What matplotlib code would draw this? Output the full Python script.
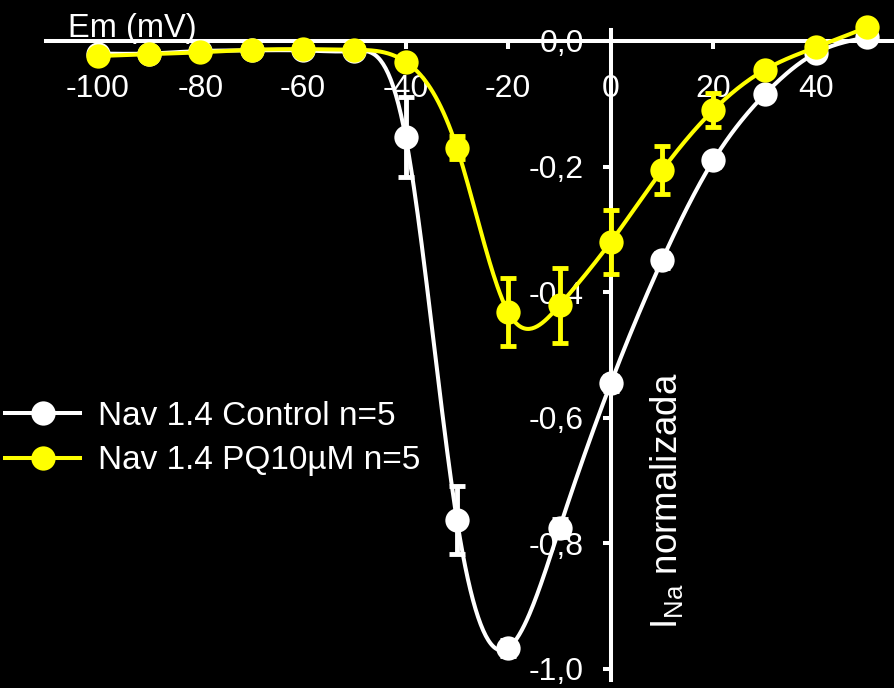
import numpy as np
import matplotlib
matplotlib.use("Agg")
import matplotlib.pyplot as plt
from matplotlib.lines import Line2D
from matplotlib.ticker import FuncFormatter

plt.rcParams["font.family"] = ["Liberation Sans", "DejaVu Sans"]
plt.rcParams["mathtext.fontset"] = "custom"
plt.rcParams["mathtext.rm"] = "Liberation Sans"
plt.rcParams["mathtext.it"] = "Liberation Sans:italic"

# Membrane potential steps (mV)
volt = [-100, -90, -80, -70, -60, -50, -40, -30, -20, -10, 0, 10, 20, 30, 40, 50]

# Normalised sodium current, mean and SEM
control_mean = [-0.020, -0.020, -0.016, -0.015, -0.015, -0.016, -0.153, -0.763,
                -0.967, -0.776, -0.545, -0.349, -0.190, -0.085, -0.019, 0.006]
control_sem = [0.003, 0.003, 0.003, 0.003, 0.003, 0.003, 0.064, 0.054,
               0.012, 0.014, 0.012, 0.012, 0.010, 0.008, 0.005, 0.005]

pq_mean = [-0.024, -0.021, -0.018, -0.014, -0.013, -0.014, -0.033, -0.170,
           -0.432, -0.421, -0.320, -0.206, -0.110, -0.046, -0.010, 0.022]
pq_sem = [0.003, 0.003, 0.003, 0.003, 0.003, 0.003, 0.008, 0.018,
          0.054, 0.060, 0.051, 0.038, 0.027, 0.010, 0.006, 0.005]

x_ticks = [-100, -80, -60, -40, -20, 0, 20, 40]
y_ticks = [0.0, -0.2, -0.4, -0.6, -0.8, -1.0]

labels = ["Nav 1.4 Control n=5", "Nav 1.4 PQ10\u00b5M n=5"]
colors = ["white", "#ffff00"]


def natural_spline(x, y, num=600):
    """Natural cubic spline through (x, y), evaluated on a fine grid."""
    x = np.asarray(x, float)
    y = np.asarray(y, float)
    n = len(x)
    h = np.diff(x)
    A = np.zeros((n, n))
    r = np.zeros(n)
    A[0, 0] = A[-1, -1] = 1.0
    for i in range(1, n - 1):
        A[i, i - 1] = h[i - 1]
        A[i, i] = 2 * (h[i - 1] + h[i])
        A[i, i + 1] = h[i]
        r[i] = 6 * ((y[i + 1] - y[i]) / h[i] - (y[i] - y[i - 1]) / h[i - 1])
    M = np.linalg.solve(A, r)
    xs = np.linspace(x[0], x[-1], num)
    k = np.clip(np.searchsorted(x, xs) - 1, 0, n - 2)
    t0 = x[k + 1] - xs
    t1 = xs - x[k]
    hk = h[k]
    ys = (M[k] * t0 ** 3 / (6 * hk) + M[k + 1] * t1 ** 3 / (6 * hk)
          + (y[k] / hk - M[k] * hk / 6) * t0
          + (y[k + 1] / hk - M[k + 1] * hk / 6) * t1)
    return xs, ys


W, H = 894, 688
fig = plt.figure(figsize=(W / 100, H / 100), dpi=100, facecolor="black")
ax = fig.add_axes([46 / W, (H - 680) / H, (W - 46) / W, 650 / H])
ax.set_facecolor("black")

ax.set_xlim(-110.1, 55.2)
ax.set_ylim(-1.018, 0.0175)

lw = 2.9
ms = 17.5
series = [(control_mean, control_sem), (pq_mean, pq_sem)]
for i, ((mean, sem), col) in enumerate(zip(series, colors)):
    z = 3 + 3 * i
    xs, ys = natural_spline(volt, mean)
    ax.plot(xs, ys, color=col, lw=lw, zorder=z, clip_on=False,
            solid_capstyle="round")
    ax.errorbar(volt, mean, yerr=sem, fmt="none", ecolor=col,
                elinewidth=3.5, capsize=6, capthick=3.5, zorder=z + 1,
                clip_on=False)
    ax.plot(volt, mean, "o", color=col, ms=ms, mew=0, zorder=z + 2,
            clip_on=False)

# Axes crossing at the origin
for side in ("top", "right"):
    ax.spines[side].set_visible(False)
ax.spines["left"].set_position(("data", 0))
ax.spines["bottom"].set_position(("data", 0))
for side in ("left", "bottom"):
    ax.spines[side].set_color("white")
    ax.spines[side].set_linewidth(2.9)

ax.set_xticks(x_ticks)
ax.set_yticks(y_ticks)
ax.xaxis.set_major_formatter(FuncFormatter(lambda v, p: f"{v:.0f}"))
ax.yaxis.set_major_formatter(FuncFormatter(
    lambda v, p: ("0,0" if abs(v) < 1e-9 else f"{v:.1f}".replace(".", ","))))
ax.tick_params(axis="x", direction="out", length=6, width=2.9, colors="white",
               labelsize=23, pad=18)
ax.tick_params(axis="y", direction="out", length=6, width=2.9, colors="white",
               labelsize=23, pad=13.5)
ax.minorticks_off()

ax.text(-105.8, 0.0064, "Em (mV)", color="white", fontsize=23.5,
        ha="left", va="baseline", clip_on=False)
ax.text(10.9, -0.733, r"I$_{\mathrm{Na}}$ normalizada", color="white",
        fontsize=26.5, rotation=90, ha="center", va="center", clip_on=False)

handles = [Line2D([], [], color=c, lw=lw, marker="o", ms=ms, mew=0) for c in colors]
leg = ax.legend(handles, labels, loc="center left",
                bbox_to_anchor=(5 / W, (H - 438.5) / H),
                bbox_transform=fig.transFigure, frameon=False,
                fontsize=24, handlelength=2.25, handletextpad=0.55,
                labelspacing=0.4, borderpad=0, borderaxespad=0, numpoints=1)
for t in leg.get_texts():
    t.set_color("white")

fig.savefig("out.png", dpi=100, facecolor="black")
